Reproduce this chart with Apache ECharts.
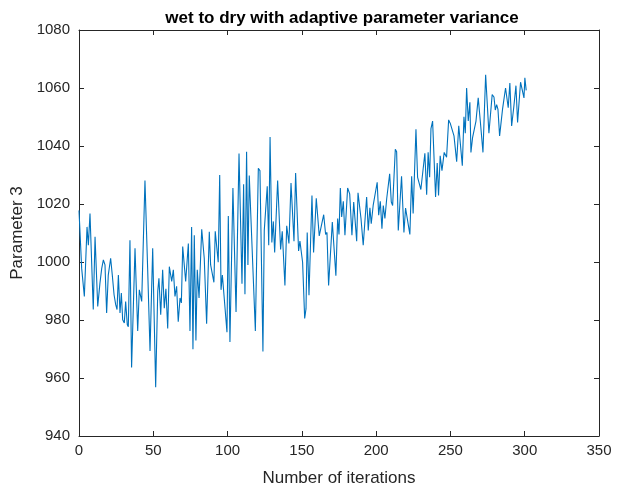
<!DOCTYPE html>
<html>
<head>
<meta charset="utf-8">
<script src="https://cdn.jsdelivr.net/npm/echarts@6/dist/echarts.min.js"></script>
<style>
html,body{margin:0;padding:0;background:#fff;}
#chart{width:623px;height:492px;}
</style>
</head>
<body>
<div id="chart"></div>
<script>
const titleText = 'wet to dry with adaptive parameter variance';
const xLabel = 'Number of iterations';
const yLabel = 'Parameter 3';
const xTicks = [0, 50, 100, 150, 200, 250, 300, 350];
const yTicks = [940, 960, 980, 1000, 1020, 1040, 1060, 1080];

const iterations = [
0,1.8,3.6,5.4,6.3,7.4,9.6,10.8,12.6,14.1,15.3,16.4,17.5,18.6,19.7,21.3,22.4,23.6,24.7,25.6,
26.5,27.6,28.5,29.4,30.5,31.4,32.5,33.2,34.3,35.4,37.7,39.5,40.6,42.2,44.4,46.2,47.8,49.6,51.6,53,
53.8,55,56.3,57.4,58.5,59.7,60.8,62.4,63.5,64.6,65.7,66.8,68,68.9,69.8,70.9,71.8,73.6,74.7,75.8,
76.7,77.6,78.7,79.6,80.8,82.6,84.3,85.9,87.7,88.6,89.7,90.8,91.7,93.7,94.7,95.6,96.5,97.6,99.6,100.5,
101.6,103.6,105.7,107.7,109.7,110.8,111.7,112.8,113.7,114.6,118.7,120.7,121.8,123.8,124.7,126.7,127.7,128.6,129.8,130.8,
131.7,133.7,135.7,136.8,138.6,139.8,141.3,142.7,144.7,145.8,147.8,148.7,150.5,151.9,152.8,153.6,154.8,156.8,157.9,159.7,
161.7,164.7,166,166.9,168,170.5,171.6,172.9,174.1,175,175.9,176.8,177.9,179,180.8,182.2,183.7,184.9,186.9,187.8,
189.8,191.3,193.6,194.7,195.8,196.7,198,200.7,201.7,202.8,203.9,204.8,205.9,207.1,208.2,209.1,210.2,211.1,212.9,213.8,
214.9,217.1,218.7,219.8,220.9,222.7,223.9,224.9,226.8,227.9,229,230.1,232.8,234,235,236,236.9,238,240,241.1,
242,243.1,244.3,245.8,247.4,248.8,249.9,251,252.4,253.2,254.2,255.6,258,259.1,260,260.9,262,263.1,263.8,264.9,
265.8,267.2,268.7,270.1,271.9,273.7,275.9,278.1,279.3,280.2,281.1,282,283.1,285.1,286.2,287.1,288.9,290,291.2,292.7,
294.1,295.2,297.2,298.3,299.5,300.1,301
];
const param3 = [
1017.8,997.8,988.1,1012.1,1005.8,1016.7,983.6,1008.7,984.7,992.7,997.8,1000.7,999,982.4,995.5,1001.3,995.5,988.7,985.3,983.6,
995.5,982.4,989.3,980.1,979,986.4,978.4,977.7,1007.5,963.6,1004.7,976.2,990.4,986.4,1028.1,997.8,969.3,1004.7,956.8,989.9,
994.4,981.8,997.3,984.1,990.8,977.1,998.4,993.3,997.3,988.1,991.6,979.4,987.6,985.9,1005.3,1004.9,993.3,1006.4,976.2,1012.1,
969.9,1009.2,972.9,997.3,987.6,1011.3,1001.3,978.7,1010.4,999,999.6,993,1010.6,999.9,1030,990.4,995.5,996.1,975.8,1015.9,
972.4,1025.5,982.8,1037.4,992.5,1026.8,988.9,1038,999,1029.8,976.2,1032.3,1031.5,969.1,1010.9,1026.1,1005.8,1043.1,1006.7,1014,
1003.3,1028.1,1004.3,1010.6,991.9,1012.5,1006.4,1027.2,1007.2,1030.7,1003.8,1007.2,999.9,980.5,983.9,1010.2,988.5,1022.9,1003.3,1022,
1009,1016.3,1009.5,1010.2,991.9,1013.8,1013.2,995.3,1015,1009.5,1025.5,1015.5,1020.9,1009.2,1025.5,1023.5,1009.2,1020.7,1007.2,1023.9,
1015,1005.8,1022.4,1010.9,1018.7,1013.2,1019.5,1027.5,1016.1,1020.9,1011.5,1019.5,1015,1021.8,1021.2,1030.4,1020.7,1019.5,1038.9,1038,
1010.9,1029.6,1010.2,1018.6,1018.4,1009.5,1029.6,1016.7,1045.8,1029.2,1029.2,1025,1037.5,1023.2,1037.8,1029.2,1046,1048.6,1022.4,1034.1,
1022.9,1036.6,1031.5,1037.8,1036.1,1049,1047.8,1047.5,1043.5,1042.9,1034.6,1047,1033.2,1050.1,1044.4,1060,1048.6,1055.1,1037.8,1042.9,
1042.3,1048.6,1056.6,1048.6,1037.8,1064.6,1044.4,1057.7,1056.9,1052.4,1054.3,1052.6,1043.5,1052.8,1052.8,1060,1053.2,1061.7,1046.9,1053.7,
1060.8,1048.1,1062,1061.5,1056.6,1063.5,1059.2
];

const seriesData = iterations.map((x, i) => [x, param3[i]]);
const axisColor = '#262626';
const fontFam = 'Liberation Sans, Arial, sans-serif';

const chart = echarts.init(document.getElementById('chart'), null, {renderer: 'canvas'});
const baseX = {
  type: 'value', min: xTicks[0], max: xTicks[xTicks.length - 1], interval: 50,
  axisLine: {show: true, onZero: false, lineStyle: {color: axisColor, width: 1}},
  axisTick: {show: true, inside: true, length: 5, lineStyle: {color: axisColor}},
  splitLine: {show: false}
};
const baseY = {
  type: 'value', min: yTicks[0], max: yTicks[yTicks.length - 1], interval: 20,
  axisLine: {show: true, onZero: false, lineStyle: {color: axisColor, width: 1}},
  axisTick: {show: true, inside: true, length: 5, lineStyle: {color: axisColor}},
  splitLine: {show: false}
};
chart.setOption({
  animation: false,
  backgroundColor: '#ffffff',
  title: {
    text: titleText, left: 337, top: 5, textAlign: 'center',
    textStyle: {fontFamily: fontFam, fontSize: 17, fontWeight: 'bold', color: '#000'}
  },
  grid: {left: 79, top: 30, width: 520, height: 409, containLabel: false},
  xAxis: [
    Object.assign({}, baseX, {
      position: 'bottom',
      name: xLabel, nameLocation: 'middle', nameGap: 34,
      nameTextStyle: {fontFamily: fontFam, fontSize: 17, color: axisColor},
      axisLabel: {show: true, margin: 7, fontFamily: fontFam, fontSize: 15, color: axisColor,
        formatter: v => String(v)}
    }),
    Object.assign({}, baseX, {position: 'top', axisLabel: {show: false}})
  ],
  yAxis: [
    Object.assign({}, baseY, {
      position: 'left',
      name: yLabel, nameLocation: 'middle', nameGap: 42,
      nameTextStyle: {fontFamily: fontFam, fontSize: 17, color: axisColor},
      axisLabel: {show: true, margin: 9, fontFamily: fontFam, fontSize: 15, color: axisColor,
        formatter: v => String(v)}
    }),
    Object.assign({}, baseY, {position: 'right', axisLabel: {show: false}})
  ],
  series: [{
    type: 'line', data: seriesData, xAxisIndex: 0, yAxisIndex: 0,
    showSymbol: false, symbol: 'none',
    lineStyle: {color: '#0072BD', width: 1.1},
    itemStyle: {color: '#0072BD'}
  }]
});
</script>
</body>
</html>
